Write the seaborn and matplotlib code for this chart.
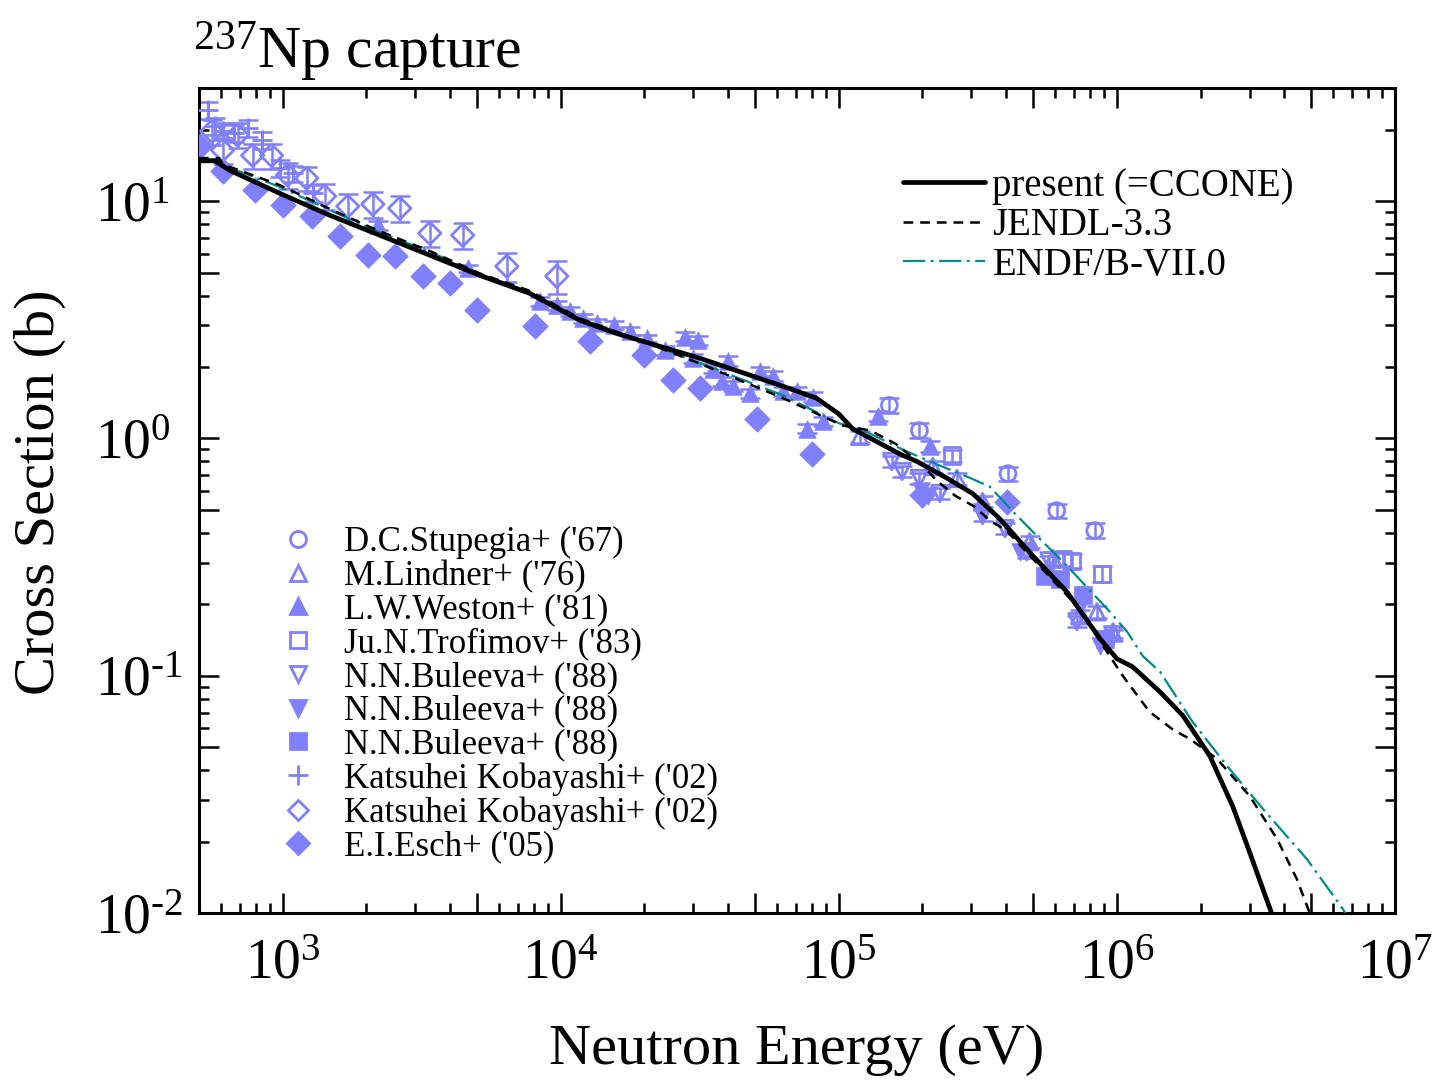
import numpy as np
import pandas as pd
import matplotlib
matplotlib.use("Agg")
import matplotlib.pyplot as plt
from matplotlib.ticker import LogLocator, FuncFormatter, NullFormatter
from matplotlib.lines import Line2D
import seaborn as sns

# ---------------- data ----------------
ccone_e = [500, 570, 644, 975, 1476, 2234, 3384, 5120, 7730, 11700, 15900, 31600, 63000,
           83000, 100000, 112000, 166000, 191000, 240000, 303000, 379000, 499000, 661000, 871000,
           1.0e6, 1.14e6, 1.43e6, 1.73e6, 2.16e6, 2.61e6, 3.0e6, 3.6e6, 3.7e6]
ccone_s = [14.8, 14.8, 13.5, 10.8, 8.73, 7.19, 5.92, 4.87, 4.09, 3.15, 2.77, 2.18, 1.66,
           1.48, 1.27, 1.10, 0.86, 0.80, 0.69, 0.586, 0.459, 0.32, 0.226, 0.143,
           0.118, 0.109, 0.0855, 0.0678, 0.0459, 0.0282, 0.0181, 0.0100, 0.0092]

jendl_e = [500, 590, 610, 975, 1500, 2234, 3400, 5120, 7700, 11700, 20000, 31600, 63000,
           103000, 130000, 160000, 200000, 225000, 262000, 308000, 349000, 400000, 500000,
           718000, 1.05e6, 1.31e6, 1.6e6, 1.83e6, 2.29e6, 3.0e6, 3.77e6, 4.44e6, 4.94e6, 5.1e6]
jendl_s = [15.2, 15.2, 14.3, 11.7, 9.2, 7.47, 6.15, 4.96, 4.2, 3.21, 2.55, 2.07, 1.48,
           1.135, 1.08, 0.95, 0.77, 0.665, 0.574, 0.516, 0.451, 0.41, 0.31,
           0.197, 0.100, 0.0705, 0.059, 0.0542, 0.0447, 0.0312, 0.0205, 0.0139, 0.0100, 0.0092]

endf_e = [500, 590, 610, 975, 1500, 2234, 3400, 5120, 7700, 11700, 20000, 31600, 63000,
          100000, 119000, 176000, 231000, 288000, 349000, 423000, 528000, 661000, 944000,
          1.09e6, 1.24e6, 1.43e6, 1.87e6, 2.49e6, 3.35e6, 4.82e6, 6.5e6, 6.9e6]
endf_s = [15.0, 15.0, 14.2, 11.5, 9.1, 7.4, 6.1, 4.95, 4.15, 3.2, 2.55, 2.08, 1.52,
          1.16, 1.10, 0.88, 0.769, 0.692, 0.627, 0.492, 0.378, 0.291, 0.186,
          0.153, 0.121, 0.104, 0.064, 0.0417, 0.0275, 0.0169, 0.0104, 0.0092]

stup_e = [152000, 195000, 406000, 608000, 833000]
stup_s = [1.38, 1.08, 0.711, 0.497, 0.409]
stup_err = [0.10, 0.08, 0.05, 0.035, 0.03]

lind_e = [119000, 218000, 266000, 329000, 486000, 589000, 736000, 848000, 968000]
lind_s = [1.02, 0.762, 0.678, 0.542, 0.367, 0.312, 0.179, 0.186, 0.153]
lind_err = [0.06, 0.045, 0.04, 0.03, 0.022, 0.019, 0.011, 0.011, 0.009]

west_e = [2200, 4630, 8400, 9680, 10800, 12000, 13500, 15600, 17700, 20400, 23700, 27900,
          31100, 29900, 35200, 39900, 37900, 41600, 47900, 52000, 57900, 63000, 70600,
          80600, 76800, 87500, 138000, 212000]
west_s = [7.92, 5.21, 3.78, 3.64, 3.43, 3.21, 3.06, 3.0, 2.83, 2.64, 2.35, 2.69,
          2.59, 2.18, 1.97, 2.13, 1.74, 1.67, 1.55, 1.92, 1.83, 1.58, 1.58,
          1.50, 1.10, 1.18, 1.25, 0.93]
west_err = [0.35, 0.2, 0.15, 0.15, 0.14, 0.13, 0.12, 0.12, 0.11, 0.1, 0.1, 0.12,
            0.12, 0.1, 0.09, 0.1, 0.08, 0.08, 0.07, 0.09, 0.09, 0.07, 0.07,
            0.07, 0.05, 0.05, 0.06, 0.05]

trof_e = [255000, 640000, 690000, 883000]
trof_s = [0.848, 0.31, 0.305, 0.269]
trof_err = [0.05, 0.02, 0.02, 0.02]

bul1_e = [155000, 169000, 195000, 231000, 329000, 396000, 474000, 570000, 718000, 968000]
bul1_s = [0.80, 0.726, 0.678, 0.586, 0.473, 0.417, 0.333, 0.305, 0.169, 0.148]
bul1_err = [0.04, 0.04, 0.035, 0.03, 0.025, 0.022, 0.018, 0.016, 0.009, 0.008]

bul2_e = [198000, 210000, 325000, 448000, 755000, 870000]
bul2_s = [0.60, 0.57, 0.49, 0.333, 0.205, 0.134]

bul3_e = [551000, 624000, 755000, 906000]
bul3_s = [0.264, 0.256, 0.218, 0.143]

kob1_e = [537, 569, 610, 671, 748, 840, 975, 1087, 1282]
kob1_s = [24.2, 20.7, 19.8, 19.4, 20.3, 18.1, 13.8, 13.1, 10.8]
kob1_err = [1.9, 1.7, 1.6, 1.6, 1.6, 1.5, 1.1, 1.0, 0.9]

kob2_e = [556, 608, 688, 780, 912, 1042, 1220, 1415, 1714, 2110, 2636, 3380, 4440, 6400, 9680]
kob2_s = [19.7, 16.4, 19.0, 15.6, 15.6, 12.9, 12.5, 10.5, 9.52, 9.71, 9.34, 7.33, 7.19, 5.32, 4.83]
kob2_err = [2.4, 2.0, 2.3, 1.9, 1.9, 1.6, 1.5, 1.3, 1.2, 1.2, 1.2, 0.9, 0.9, 0.75, 0.75]

esch_e = [505, 608, 793, 1000, 1271, 1603, 2023, 2529, 3190, 3990, 4990, 8060, 12700,
          20000, 25300, 31600, 50700, 80000, 200000, 402000]
esch_s = [17.1, 13.4, 11.1, 9.6, 8.65, 7.11, 5.92, 5.86, 4.83, 4.51, 3.47, 2.97, 2.57,
          2.24, 1.76, 1.63, 1.21, 0.864, 0.58, 0.542]

model_labels = ["present (=CCONE)", "JENDL-3.3", "ENDF/B-VII.0"]
data_labels = ["D.C.Stupegia+ ('67)", "M.Lindner+ ('76)", "L.W.Weston+ ('81)",
               "Ju.N.Trofimov+ ('83)", "N.N.Buleeva+ ('88)", "N.N.Buleeva+ ('88)",
               "N.N.Buleeva+ ('88)", "Katsuhei Kobayashi+ ('02)", "Katsuhei Kobayashi+ ('02)",
               "E.I.Esch+ ('05)"]

# ---------------- style ----------------
sns.set_style("ticks")
plt.rcParams["font.family"] = ["Liberation Serif", "DejaVu Serif"]
plt.rcParams["mathtext.fontset"] = "custom"
plt.rcParams["mathtext.rm"] = "Liberation Serif"
plt.rcParams["mathtext.it"] = "Liberation Serif:italic"
plt.rcParams["mathtext.default"] = "regular"
plt.rcParams["lines.scale_dashes"] = False
plt.rcParams["text.color"] = "black"
plt.rcParams["axes.labelcolor"] = "black"
plt.rcParams["xtick.color"] = "black"
plt.rcParams["ytick.color"] = "black"
plt.rcParams["axes.edgecolor"] = "black"

C = "#8080FF"
TEAL = "#008B8B"

fig = plt.figure(figsize=(14.47, 10.8), dpi=100)
ax = fig.add_axes([0.1375, 0.1546, 0.8265, 0.7639])

# model curves
sns.lineplot(x=endf_e, y=endf_s, ax=ax, color=TEAL, lw=1.6, sort=False, estimator=None,
             linestyle=(0, (16, 4, 2, 4)), zorder=4)
sns.lineplot(x=jendl_e, y=jendl_s, ax=ax, color="black", lw=1.8, sort=False, estimator=None,
             linestyle=(0, (7, 5)), zorder=4)
sns.lineplot(x=ccone_e, y=ccone_s, ax=ax, color="black", lw=3.4, sort=False, estimator=None,
             zorder=5)

# error bars
ebkw = dict(fmt="none", ecolor=C, elinewidth=1.8, capsize=7, capthick=1.8, zorder=2)
ax.errorbar(stup_e, stup_s, yerr=stup_err, **ebkw)
ax.errorbar(lind_e, lind_s, yerr=lind_err, **ebkw)
ax.errorbar(west_e, west_s, yerr=west_err, **ebkw)
ax.errorbar(trof_e, trof_s, yerr=trof_err, **ebkw)
ax.errorbar(bul1_e, bul1_s, yerr=bul1_err, **ebkw)
ax.errorbar(kob1_e, kob1_s, yerr=kob1_err, **ebkw)
ax.errorbar(kob2_e, kob2_s, yerr=kob2_err, **ebkw)

def open_pts(x, y, marker, s):
    sns.scatterplot(x=x, y=y, ax=ax, marker=marker, s=s, color=C, facecolor="none",
                    edgecolor=C, linewidth=2.0, zorder=3, legend=False)

def filled_pts(x, y, marker, s):
    sns.scatterplot(x=x, y=y, ax=ax, marker=marker, s=s, color=C, edgecolor=C,
                    linewidth=0.5, zorder=3, legend=False)

open_pts(stup_e, stup_s, "o", 130)
open_pts(lind_e, lind_s, "^", 140)
filled_pts(west_e, west_s, "^", 160)
open_pts(trof_e, trof_s, "s", 140)
open_pts(bul1_e, bul1_s, "v", 140)
filled_pts(bul2_e, bul2_s, "v", 160)
filled_pts(bul3_e, bul3_s, "s", 160)
sns.scatterplot(x=kob1_e, y=kob1_s, ax=ax, marker="+", s=200, color=C, linewidth=2.0,
                zorder=3, legend=False)
open_pts(kob2_e, kob2_s, "D", 130)
filled_pts(esch_e, esch_s, "D", 170)

# axes
ax.set_xscale("log")
ax.set_yscale("log")
ax.set_xlim(500, 1e7)
ax.set_ylim(0.01, 30)

def pow_fmt(v, pos):
    e = np.log10(v)
    if abs(e - round(e)) < 1e-6:
        n = int(round(e))
        if n < 0:
            return r"$\mathregular{10^{\text{-}%d}}$" % (-n)
        return r"$\mathregular{10^{%d}}$" % n
    return ""

for axis in (ax.xaxis, ax.yaxis):
    axis.set_major_locator(LogLocator(base=10, subs=(1.0, 5.0), numticks=30))
    axis.set_minor_locator(LogLocator(base=10, subs=(2, 3, 4, 6, 7, 8, 9), numticks=30))
    axis.set_major_formatter(FuncFormatter(pow_fmt))
    axis.set_minor_formatter(NullFormatter())

ax.tick_params(which="both", direction="in", top=True, right=True, width=1.8, colors="black")
ax.tick_params(which="major", length=14.5, labelsize=40)
ax.tick_params(which="minor", length=7.2)
ax.tick_params(axis="x", which="major", pad=18)
ax.tick_params(axis="y", which="major", pad=75)
for t in ax.yaxis.get_major_ticks():
    t.label1.set_horizontalalignment("left")
for sp in ax.spines.values():
    sp.set_linewidth(2.2)
    sp.set_color("black")

ax.set_xlabel("Neutron Energy (eV)", fontsize=42, color="black")
ax.xaxis.set_label_coords(0.5, -0.135)
ax.set_ylabel("Cross Section (b)", fontsize=42, color="black")
ax.yaxis.label.set_va("center")
ax.yaxis.set_label_coords(-0.133, 0.51)

fig.text(193 / 1447, 1 - 68 / 1080, r"$^{237}$Np capture", fontsize=43, va="baseline",
         ha="left", color="black")

# legends
model_handles = [
    Line2D([], [], color="black", lw=3.4),
    Line2D([], [], color="black", lw=1.8, linestyle=(0, (7, 5))),
    Line2D([], [], color=TEAL, lw=1.6, linestyle=(0, (16, 4, 2, 4))),
]
leg1 = ax.legend(model_handles, model_labels, loc="upper left",
                 bbox_to_anchor=(903 / 1447, 1 - 168 / 1080), bbox_transform=fig.transFigure,
                 frameon=False, fontsize=28, handlelength=2.1, handletextpad=0.2,
                 labelspacing=0.06, borderpad=0, borderaxespad=0, labelcolor="black")
ax.add_artist(leg1)

def mh(marker, filled, ms=11.5):
    if marker == "+":
        return Line2D([], [], ls="none", marker="+", color=C, mew=2.0, ms=14)
    return Line2D([], [], ls="none", marker=marker, mec=C, mew=2.0, ms=ms,
                  mfc=C if filled else "none")

data_handles = [mh("o", False), mh("^", False), mh("^", True), mh("s", False),
                mh("v", False), mh("v", True), mh("s", True), mh("+", False),
                mh("D", False, 10), mh("D", True, 11)]
leg2 = ax.legend(data_handles, data_labels, loc="upper left",
                 bbox_to_anchor=(281 / 1447, 1 - 526 / 1080), bbox_transform=fig.transFigure,
                 frameon=False, fontsize=25, handlelength=1.0, handletextpad=0.82,
                 labelspacing=0.02, borderpad=0, borderaxespad=0, labelcolor="black")

fig.savefig("out.png", dpi=100)
